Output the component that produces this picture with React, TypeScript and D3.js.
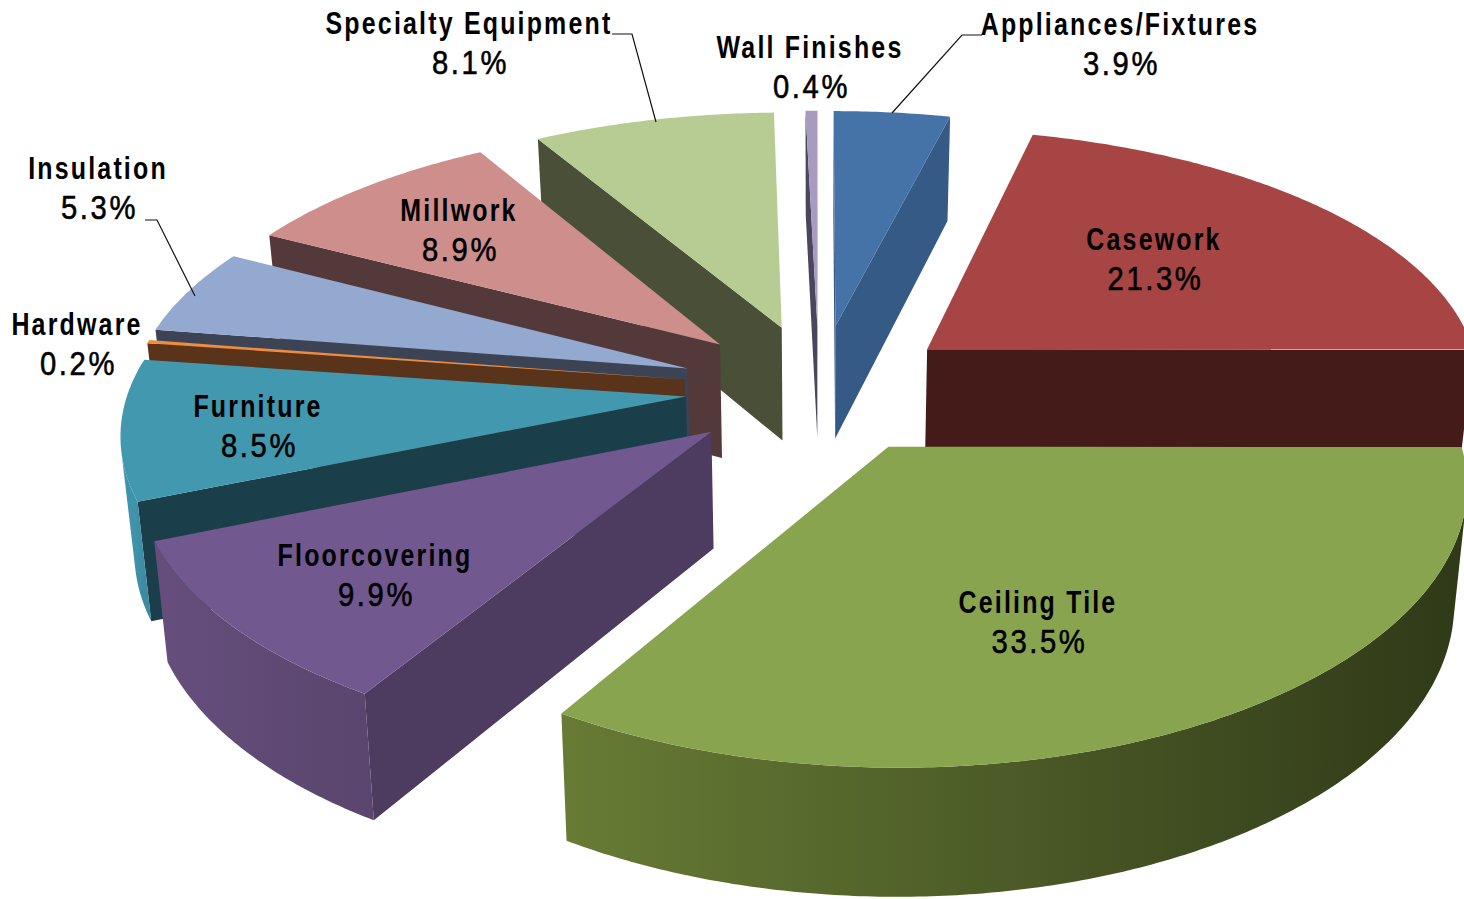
import React from "react";
import * as d3 from "d3";

const categories = ["Appliances/Fixtures","Casework","Ceiling Tile","Floorcovering","Furniture","Hardware","Insulation","Millwork","Specialty Equipment","Wall Finishes"];
const shares = [3.9,21.3,33.5,9.9,8.5,0.2,5.3,8.9,8.1,0.4];
const explosions = [0.25,0.25,0.25,0.25,0.24,0.245,0.25,0.25,0.25,0.25];
const topColors = ["#4572A7","#A64543","#88A44E","#71588F","#4198AF","#F08C3C","#93A9CF","#CD8E8C","#B7CC93","#A99BBD"];
const faceColors = ["#355A85","#441B19","#36401C","#4E3B60","#1B3F4A","#5A341A","#3B4355","#53393A","#4A5037","#4B4660"];
const wallLeft = ["#3E6796","#7D3432","#677B35","#654E7C","#3F93AA","#A8662C","#6F819F","#9C6C6A","#8A9B6E","#7F7590"];
const wallRight = ["#345A85","#441B19","#303A18","#59456D","#3A8198","#5A341A","#3B4355","#53393A","#4A5037","#4B4660"];

const labelSpots: Record<string,[number,number]> = {
  "Appliances/Fixtures":[1120,35],"Casework":[1154,250],"Ceiling Tile":[1038,613],"Floorcovering":[375,566],
  "Furniture":[258,417],"Hardware":[77,335],"Insulation":[98,179],"Millwork":[459,221],
  "Specialty Equipment":[469,34],"Wall Finishes":[810,58],
};
const leaders: Record<string,[number,number][]> = {
  "Specialty Equipment":[[612,34],[632,34],[656,122]],
  "Appliances/Fixtures":[[982,35],[962,35],[892,113]],
  "Insulation":[[145,220],[157,220],[195,296]],
};

const W = 1464, H = 899;
const CX = 819, CY = 385;
const F = 556, G = 258.9, K = 0.144, KX = 0.13, APEX_DROP = 0.012;
const DEPTH = 115, DEPTH_POW = 0.6, BASE_X = 0.98;

type P = [number, number];
function project(wx: number, wy: number) {
  const s = 1 / (1 - K * wy);
  const sx = 1 / (1 - KX * wy);
  return { x: CX + F * wx * sx, y: CY + G * wy * s, s };
}
function world(mid: number, e: number, a: number, r: number) {
  return {
    wx: e * Math.sin(mid) + r * Math.sin(a),
    wy: -e * Math.cos(mid) - r * Math.cos(a) + APEX_DROP * (1 - r),
  };
}
function topPoint(mid: number, e: number, a: number, r: number): P {
  const { wx, wy } = world(mid, e, a, r);
  const p = project(wx, wy);
  return [p.x, p.y];
}
function basePoint(mid: number, e: number, a: number, r: number): P {
  const { wx, wy } = world(mid, e, a, r);
  const p = project(wx, wy);
  return [CX + BASE_X * (p.x - CX), p.y + DEPTH * Math.pow(p.s, DEPTH_POW)];
}
const path = d3.line<P>().x(d => d[0]).y(d => d[1]);
const closed = (pts: P[]) => (path(pts) ?? "") + "Z";

const pieGen = d3.pie<number>().sort(null).value(d => d);
const arcs = pieGen(shares).map((d, i) => {
  const mid = (d.startAngle + d.endAngle) / 2;
  const e = explosions[i];
  const n = Math.max(2, Math.ceil((d.endAngle - d.startAngle) / 0.01));
  const angles = d3.range(n + 1).map(k => d.startAngle + (d.endAngle - d.startAngle) * k / n);
  const rimTop = angles.map(a => topPoint(mid, e, a, 1));
  const rimBase = angles.map(a => basePoint(mid, e, a, 1));
  const apexTop = topPoint(mid, e, 0, 0);
  const apexBase = basePoint(mid, e, 0, 0);
  // keep only the part of the rim that faces the viewer
  const seen = d3.range(n).filter(k => d3.polygonArea([rimTop[k], rimTop[k + 1], rimBase[k + 1], rimBase[k]]) > 0);
  const from = seen.length ? seen[0] : -1;
  const to = seen.length ? seen[seen.length - 1] + 1 : -1;
  const wallTop = from >= 0 ? rimTop.slice(from, to + 1) : [];
  const wallBase = from >= 0 ? rimBase.slice(from, to + 1) : [];
  return { i, mid, d, rimTop, rimBase, apexTop, apexBase, wallTop, wallBase, order: -Math.cos(mid) };
});
const drawOrder = d3.sort(arcs, a => a.order);

export default function App() {
  return (
    <svg width={W} height={H} viewBox={`0 0 ${W} ${H}`} style={{ position: "absolute", left: 0, top: 0, display: "block", background: "#fff" }}>
      <defs>
        {arcs.map(a => {
          const xs = a.rimBase.map(p => p[0]);
          return (
            <linearGradient key={a.i} id={`wall${a.i}`} gradientUnits="userSpaceOnUse" x1={d3.min(xs)} x2={d3.max(xs)} y1={0} y2={0}>
              <stop offset="0%" stopColor={wallLeft[a.i]} />
              <stop offset="100%" stopColor={wallRight[a.i]} />
            </linearGradient>
          );
        })}
      </defs>
      {drawOrder.map(a => {
        const last = a.rimTop.length - 1;
        const startQuad: P[] = [a.apexTop, a.rimTop[0], a.rimBase[0], a.apexBase];
        const endQuad: P[] = [a.apexTop, a.rimTop[last], a.rimBase[last], a.apexBase];
        const top = closed([a.apexTop, ...a.rimTop]);
        return (
          <g key={a.i}>
            {d3.polygonArea(startQuad) > 0 && <path d={closed(startQuad)} fill={faceColors[a.i]} />}
            {d3.polygonArea(endQuad) < 0 && <path d={closed(endQuad)} fill={faceColors[a.i]} />}
            {a.wallTop.length > 0 && <path d={closed([...a.wallTop, ...[...a.wallBase].reverse()])} fill={`url(#wall${a.i})`} />}
            <path d={top} fill={topColors[a.i]} />
          </g>
        );
      })}
      {Object.entries(leaders).map(([k, pts]) => (
        <path key={k} d={path(pts) ?? ""} fill="none" stroke="#111" strokeWidth={1.2} />
      ))}
      {categories.map((c, i) => {
        const [x, y] = labelSpots[c];
        return (
          <g key={c} textAnchor="middle" fill="#000" fontFamily="'Liberation Sans',Arial,sans-serif">
            <text transform={`translate(${x},${y}) scale(0.78,1)`} fontSize={32} fontWeight={700} letterSpacing={2.8}>{c}</text>
            <text transform={`translate(${x + 1.5},${y + 39.5}) scale(0.86,1)`} fontSize={34} letterSpacing={3} stroke="#000" strokeWidth={0.6}>{d3.format(".1f")(shares[i])}%</text>
          </g>
        );
      })}
    </svg>
  );
}
